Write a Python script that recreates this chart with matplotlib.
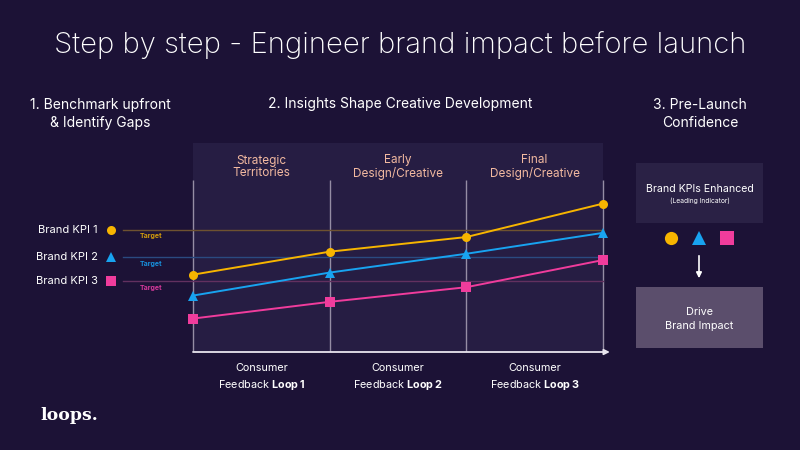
import matplotlib
matplotlib.use("Agg")
import matplotlib.pyplot as plt
from matplotlib.patches import Rectangle, FancyArrowPatch

# ---- data ----
stages = [0, 1, 2, 3]
stage_headers = ["Strategic\nTerritories", "Early\nDesign/Creative", "Final\nDesign/Creative"]
loop_numbers = ["1", "2", "3"]
series_names = ["Brand KPI 1", "Brand KPI 2", "Brand KPI 3"]
kpi1 = [37, 48, 55, 71]
kpi2 = [27, 38, 47, 57]
kpi3 = [16, 24, 31, 44]
targets = [58.5, 45.5, 34]
colors = ["#f7b500", "#18a3f0", "#f03c9c"]
target_colors = ["#6e5230", "#2a4a80", "#62305f"]
target_text_colors = ["#d19a0c", "#1890dc", "#d4389a"]
markers = ["o", "^", "s"]

BG = "#1c1236"
PANEL = "#261d43"
FONT = ["Inter", "DejaVu Sans"]
plt.rcParams["font.family"] = FONT
plt.rcParams["mathtext.fontset"] = "custom"
plt.rcParams["mathtext.rm"] = "Inter"
plt.rcParams["mathtext.bf"] = "Inter:bold"

W, H = 800, 450
fig = plt.figure(figsize=(8, 4.5), dpi=100, facecolor=BG)

def fx(px):
    return px / W

def fy(py):
    return 1 - py / H

# Title and section headings
fig.text(fx(400), fy(45), "Step by step - Engineer brand impact before launch",
         ha="center", va="center", color="white", fontsize=21.1, fontweight="light")
fig.text(fx(100), fy(114), "1. Benchmark upfront\n& Identify Gaps", ha="center", va="center",
         color="white", fontsize=10, linespacing=1.45)
fig.text(fx(400), fy(104), "2. Insights Shape Creative Development", ha="center", va="center",
         color="white", fontsize=10)
fig.text(fx(700), fy(114), "3. Pre-Launch\nConfidence", ha="center", va="center",
         color="white", fontsize=10, linespacing=1.45)

# ---- main chart axes ----
x0_px, x3_px = 193, 603
ppu = (x3_px - x0_px) / 3.0
ax_l, ax_r = 120, 612
ax = fig.add_axes([fx(ax_l), fy(352), (ax_r - ax_l) / W, 209 / H])
ax.set_xlim((ax_l - x0_px) / ppu, (ax_r - x0_px) / ppu)
ax.set_ylim(0, 100)
ax.axis("off")
ax.set_facecolor("none")

ax.add_patch(Rectangle((0, 0), 3, 100, facecolor=PANEL, edgecolor="none", zorder=0))

# vertical stage lines
for s in stages:
    ax.plot([s, s], [0, 82.5], color="#958da4", lw=1.0, zorder=1, solid_capstyle="butt")

# x axis arrow
ax.annotate("", xy=(3.05, 0), xytext=(0, 0),
            arrowprops=dict(arrowstyle="-|>", color="#e8e4ee", lw=1.3,
                            mutation_scale=8, shrinkA=0, shrinkB=0),
            annotation_clip=False, zorder=3)

# target lines
left_target = (123 - x0_px) / ppu
for t, tc in zip(targets, target_colors):
    ax.plot([left_target, 3], [t, t], color=tc, lw=1.0, zorder=1, clip_on=False)

# series
for vals, c, m in zip([kpi1, kpi2, kpi3], colors, markers):
    ax.plot(stages, vals, color=c, lw=1.4, marker=m, markersize=6.5,
            markeredgewidth=0, zorder=4, clip_on=False)

# left legend
leg_marker_x = (111 - x0_px) / ppu
leg_text_x = (98 - x0_px) / ppu
tgt_x = (151 - x0_px) / ppu
for name, t, c, tcol, m in zip(series_names, targets, colors, target_text_colors, markers):
    ax.text(leg_text_x, t, name, ha="right", va="center", color="white", fontsize=8, clip_on=False)
    ax.plot([leg_marker_x], [t], marker=m, color=c, markersize=6.5, markeredgewidth=0, clip_on=False)
    ax.text(tgt_x, t - 3.2, "Target", ha="center", va="center", color=tcol, fontsize=5,
            fontweight="bold", clip_on=False)

# stage headers
for i, hdr in enumerate(stage_headers):
    ax.text(i + 0.5, 88.5, hdr, ha="center", va="center", color="#f2b9a0", fontsize=8.5,
            linespacing=1.1)

# bottom loop labels
for i, n in enumerate(loop_numbers):
    ax.text(i + 0.5, -7.5, "Consumer", ha="center", va="center", color="white", fontsize=7.8,
            clip_on=False)
    ax.text(i + 0.5, -16, "Feedback $\\bf{Loop}\\,\\bf{" + n + "}$", ha="center", va="center",
            color="white", fontsize=7.8, clip_on=False)

# ---- right panel ----
fig.patches.append(Rectangle((fx(636), fy(223)), 127 / W, 60 / H, transform=fig.transFigure,
                             facecolor="#2a2145", edgecolor="none"))
fig.text(fx(699.5), fy(189), "Brand KPIs Enhanced", ha="center", va="center", color="white",
         fontsize=7.6)
fig.text(fx(699.5), fy(201), "(Leading Indicator)", ha="center", va="center", color="white",
         fontsize=4.8)

axr = fig.add_axes([fx(656), fy(248), 86 / W, 20 / H])
axr.set_xlim(0, 86)
axr.set_ylim(0, 20)
axr.axis("off")
for xm, c, m in zip([15, 43, 71], colors, markers):
    axr.plot([xm], [10], marker=m, color=c, markersize=9.5, markeredgewidth=0)

fig.add_artist(FancyArrowPatch((fx(699), fy(253)), (fx(699), fy(281)),
                               transform=fig.transFigure, arrowstyle="-|>",
                               mutation_scale=8, color="white", lw=1.2))

fig.patches.append(Rectangle((fx(636), fy(348)), 127 / W, 61 / H, transform=fig.transFigure,
                             facecolor="#5b4e6c", edgecolor="none"))
fig.text(fx(699.5), fy(319), "Drive\nBrand Impact", ha="center", va="center", color="white",
         fontsize=7.8, linespacing=1.55)

# logo
fig.text(fx(40), fy(416), "loops.", ha="left", va="center", color="white", fontsize=12.5,
         fontweight="bold", family=["DejaVu Serif"])

fig.savefig("out.png", dpi=100, facecolor=BG)
